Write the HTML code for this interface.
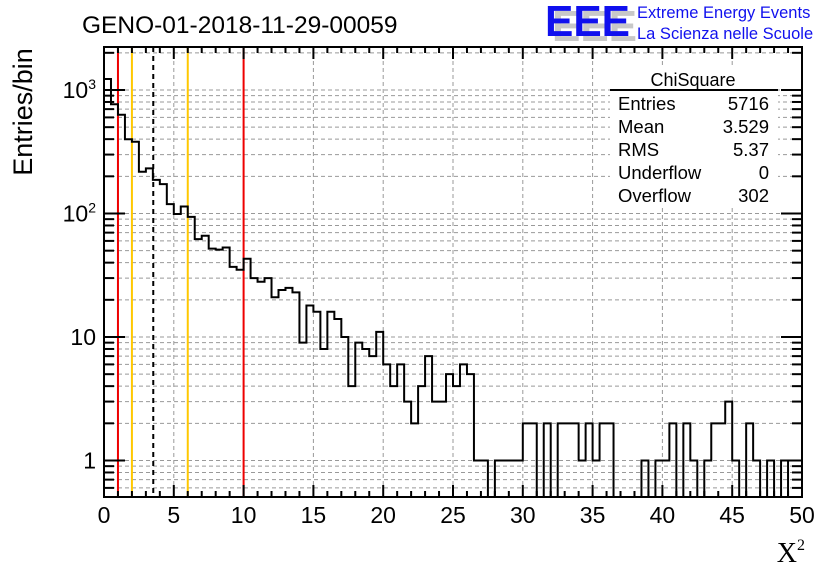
<!DOCTYPE html>
<html><head><meta charset="utf-8"><style>
html,body{margin:0;padding:0;background:#fff;}
svg{display:block;font-family:"Liberation Sans",sans-serif;}
</style></head><body>
<svg id="c" width="836" height="572" viewBox="0 0 836 572">
<rect width="836" height="572" fill="#fff"/>
<g id="grid"></g>
<rect x="610" y="66" width="168" height="140" fill="#fff"/>
<g id="marks"></g>
<path id="hist" fill="none" stroke="#000" stroke-width="2"/>
<g id="axes"></g>
<text x="82" y="33" font-size="24.5">GENO-01-2018-11-29-00059</text>
<g>
<text x="552" y="41" font-size="44" font-weight="bold" fill="#c8c8c8" textLength="85" lengthAdjust="spacingAndGlyphs">EEE</text>
<text x="545" y="36" font-size="44" font-weight="bold" fill="#1010ee" textLength="85" lengthAdjust="spacingAndGlyphs">EEE</text>
<text x="637" y="18" font-size="16.5" fill="#1010ee">Extreme Energy Events</text>
<text x="637" y="39" font-size="16.5" fill="#1010ee">La Scienza nelle Scuole</text>
</g>
<text x="32" y="112" font-size="27" transform="rotate(-90 32 112)" text-anchor="middle">Entries/bin</text>
<text x="805" y="562" font-size="28" font-family="Liberation Serif,serif" text-anchor="end">X<tspan font-size="16" dy="-12">2</tspan></text>
<g>
<text x="693" y="86" font-size="18" text-anchor="middle">ChiSquare</text>
<line x1="610" y1="90" x2="778" y2="90" stroke="#000" stroke-width="2"/>
<g id="stats" font-size="18.5"></g>
</g>
</svg>
<script>
const counts=[1227,766,631,399,381,218,232,187,173,119,99,114,94,62,66,52,51,53,37,35,43,30,28,30,21,24,25,23,
9,18,16,8,16,14,10,4,9,8,7,11,6,4,6,3,2,4,7,3,3,5,4,6,5,1,1,0,
1,1,1,1,2,2,0,2,0,2,2,2,1,2,1,2,2,0,0,0,0,1,0,1,1,2,0,2,1,0,1,2,2,3,1,0,2,1,0,1,0,1,0,0];
const binWidth=0.5;
const xTicks=[0,5,10,15,20,25,30,35,40,45,50];
const yTicks=[1,10,100,1000];
const yTickLabels=["1","10","10<tspan font-size='14' dy='-9'>2</tspan>","10<tspan font-size='14' dy='-9'>3</tspan>"];
const redLines=[1,10];
const yellowLines=[2,6];
const meanLine=[3.529];
const statNames=["Entries","Mean","RMS","Underflow","Overflow"];
const statValues=["5716","3.529","5.37","0","302"];

const X0=104,X1=802,Y0=497,Y1=47;
const xs=v=>X0+(v-0)/50*(X1-X0);
const ys=v=>90+(3-Math.log10(v))*123.5;
const NS="http://www.w3.org/2000/svg";
function mk(tag,attrs,parent){const e=document.createElementNS(NS,tag);for(const k in attrs)e.setAttribute(k,attrs[k]);parent.appendChild(e);return e;}
const grid=document.getElementById('grid'),axes=document.getElementById('axes'),marks=document.getElementById('marks');
for(const t of xTicks){if(t===0||t===50)continue;const l=mk('line',{x1:xs(t),x2:xs(t),y1:Y1,y2:Y0,stroke:'#999','stroke-dasharray':'4,3','stroke-width':1},grid);

}
for(let d=-1;d<=3;d++)for(let m=1;m<=9;m++){const v=m*Math.pow(10,d);const y=ys(v);if(y>Y0||y<Y1)continue;
const l=mk('line',{x1:X0,x2:X1,y1:y,y2:y,stroke:'#999','stroke-dasharray':'4,3','stroke-width':1},grid);


const a=mk('line',{x1:X0,x2:X0+(m===1?21:10),y1:y,y2:y,stroke:'#000','stroke-width':2},axes);


const b=mk('line',{x1:X1,x2:X1-(m===1?21:10),y1:y,y2:y,stroke:'#000','stroke-width':2},axes);

}
function vline(v,col,dash,name){const l=mk('line',{x1:xs(v),x2:xs(v),y1:Y1,y2:Y0,stroke:col,'stroke-width':2},marks);if(dash)l.setAttribute('stroke-dasharray',dash);

}
redLines.forEach(v=>vline(v,'#ee0000',null,'red-cut-line'));
yellowLines.forEach(v=>vline(v,'#ffc800',null,'yellow-cut-line'));
meanLine.forEach(v=>vline(v,'#000','5,4','mean-line'));
let d='',prevY=Y0;
counts.forEach((c,i)=>{const xa=xs(i*binWidth),xb=xs((i+1)*binWidth);const y=c>0?Math.min(Y0,ys(c)):Y0;
if(i===0)d+=`M${xa},${y}`;else d+=`L${xa},${prevY}L${xa},${y}`;d+=`L${xb},${y}`;prevY=y;});
document.getElementById('hist').setAttribute('d',d);
const fr=mk('rect',{x:X0,y:Y1,width:X1-X0,height:Y0-Y1,fill:'none',stroke:'#000','stroke-width':2},axes);


for(let v=0;v<=50;v++){const maj=v%5===0;const L=maj?12:6;
const t=mk('line',{x1:xs(v),x2:xs(v),y1:Y0,y2:Y0-L,stroke:'#000','stroke-width':2},axes);


const t2=mk('line',{x1:xs(v),x2:xs(v),y1:Y1,y2:Y1+L,stroke:'#000','stroke-width':2},axes);

}
xTicks.forEach(t=>{const e=mk('text',{x:xs(t),y:523,'font-size':23,'text-anchor':'middle'},axes);e.textContent=String(t);

});
yTicks.forEach((t,i)=>{const e=mk('text',{x:96,y:ys(t)+8,'font-size':23,'text-anchor':'end'},axes);e.innerHTML=yTickLabels[i];

});
const st=document.getElementById('stats');
statNames.forEach((n,i)=>{const y=110+i*23;
const a=mk('text',{x:618,y:y},st);a.textContent=n;


const b=mk('text',{x:769,y:y,'text-anchor':'end'},st);b.textContent=statValues[i];

});
</script>
</body></html>
